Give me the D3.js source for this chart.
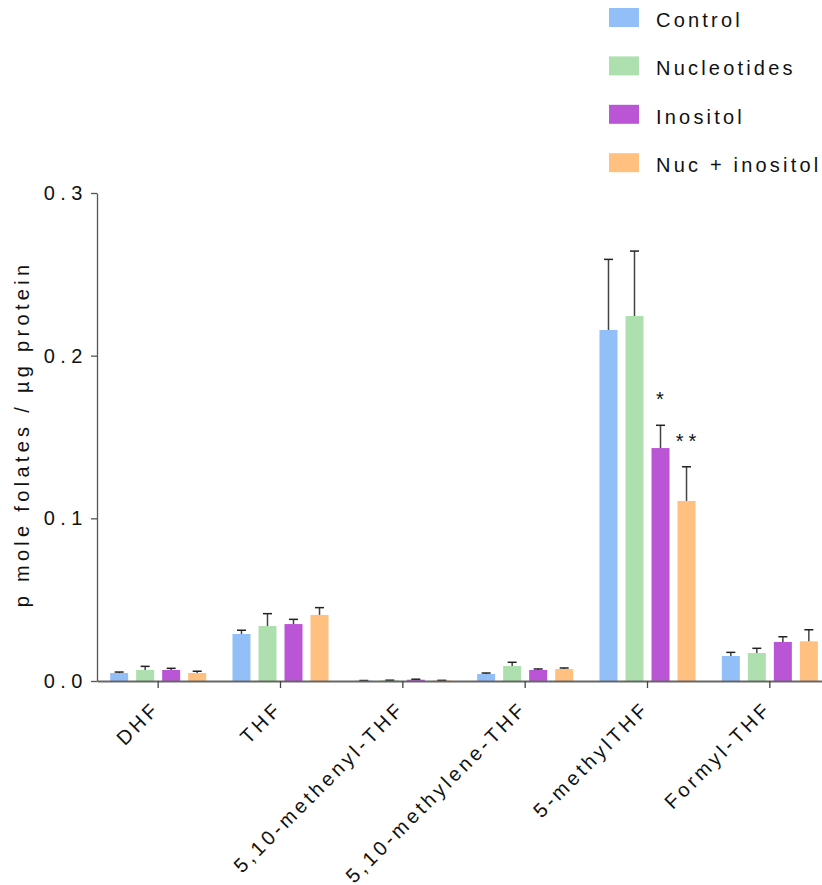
<!DOCTYPE html>
<html>
<head>
<meta charset="utf-8">
<script src="https://cdn.jsdelivr.net/npm/d3@7"></script>
<style>
  html, body { margin: 0; padding: 0; background: #fff; }
  svg { display: block; font-family: "Liberation Sans", Arial, sans-serif; }
</style>
</head>
<body>
<svg id="chart" width="822" height="885"></svg>
<script>
// Folate species measured per treatment (mean and upper SEM)
const categories = ["DHF", "THF", "5,10-methenyl-THF", "5,10-methylene-THF", "5-methylTHF", "Formyl-THF"];
const seriesNames = ["Control", "Nucleotides", "Inositol", "Nuc + inositol"];

const control        = [0.0049, 0.0289, 0.0002, 0.0043, 0.2158, 0.0154];
const controlErr     = [0.0006, 0.0023, 0.0001, 0.0006, 0.0434, 0.0022];
const nucleotides    = [0.0068, 0.0338, 0.0004, 0.0092, 0.2244, 0.0172];
const nucleotidesErr = [0.0022, 0.0076, 0.0001, 0.0023, 0.0399, 0.0029];
const inositol       = [0.0068, 0.0350, 0.0008, 0.0068, 0.1432, 0.0240];
const inositolErr    = [0.0010, 0.0029, 0.0003, 0.0006, 0.0140, 0.0032];
const nucInositol    = [0.0049, 0.0406, 0.0003, 0.0074, 0.1107, 0.0244];
const nucInositolErr = [0.0011, 0.0045, 0.0001, 0.0006, 0.0210, 0.0071];

const yTicks = [0, 0.1, 0.2, 0.3];

// Significance marks versus control
const significance = [
  { category: "5-methylTHF", series: "Inositol", label: "*" },
  { category: "5-methylTHF", series: "Nuc + inositol", label: "**" }
];

const seriesColors = ["#93BFF8", "#AEDFAE", "#BA55D6", "#FFC080"];
const seriesValues = [control, nucleotides, inositol, nucInositol];
const seriesErrors = [controlErr, nucleotidesErr, inositolErr, nucInositolErr];

const rows = [];
categories.forEach((c, i) => {
  seriesNames.forEach((s, j) => {
    rows.push({ category: c, series: s, value: seriesValues[j][i], err: seriesErrors[j][i], color: seriesColors[j] });
  });
});

const svg = d3.select("#chart");
const plotLeft = 97, plotBottom = 681, plotTop = 193;

const y = d3.scaleLinear().domain([0, 0.3]).range([plotBottom, plotTop]);
const x0 = d3.scaleBand().domain(categories).range([plotLeft, 831]).paddingInner(0.215).paddingOuter(0.1075);
const x1 = d3.scaleBand().domain(seriesNames).range([0, x0.bandwidth()]).paddingInner(8 / 26);
const color = d3.scaleOrdinal().domain(seriesNames).range(seriesColors);

// Bars
svg.append("g").selectAll("rect")
  .data(rows)
  .join("rect")
  .attr("x", d => x0(d.category) + x1(d.series))
  .attr("y", d => y(d.value))
  .attr("width", x1.bandwidth())
  .attr("height", d => y(0) - y(d.value))
  .attr("fill", d => color(d.series));

// Upper error whiskers
const capHalf = 4.5;
const eg = svg.append("g").attr("stroke", "#222").attr("stroke-width", 1.5).attr("fill", "none");
rows.forEach(d => {
  const cx = x0(d.category) + x1(d.series) + x1.bandwidth() / 2;
  eg.append("line").attr("x1", cx).attr("x2", cx).attr("y1", y(d.value)).attr("y2", y(d.value + d.err)).attr("stroke-opacity", 0.85);
  eg.append("line").attr("x1", cx - capHalf).attr("x2", cx + capHalf).attr("y1", y(d.value + d.err)).attr("y2", y(d.value + d.err));
});

// Significance stars
svg.append("g").selectAll("text")
  .data(significance)
  .join("text")
  .attr("x", d => x0(d.category) + x1(d.series) + x1.bandwidth() / 2 + 2)
  .attr("y", d => {
    const r = rows.find(r => r.category === d.category && r.series === d.series);
    return y(r.value + r.err) - 19;
  })
  .attr("text-anchor", "middle")
  .attr("font-size", 20)
  .attr("letter-spacing", 5)
  .attr("fill", "#111")
  .text(d => d.label);

// X axis
const xAxis = svg.append("g")
  .attr("transform", `translate(0,${plotBottom})`)
  .call(d3.axisBottom(x0).tickSizeInner(7).tickSizeOuter(0));
xAxis.select(".domain").attr("stroke", "#666").attr("stroke-width", 2);
xAxis.selectAll(".tick line").attr("stroke", "#444").attr("stroke-width", 1.3);
xAxis.selectAll(".tick text")
  .attr("font-size", 20)
  .attr("letter-spacing", 3.5)
  .attr("fill", "#111")
  .attr("text-anchor", "end")
  .attr("dy", 0)
  .attr("y", 0)
  .attr("transform", "translate(3,29) rotate(-45)");

// Y axis
const yAxis = svg.append("g")
  .attr("transform", `translate(${plotLeft},0)`)
  .call(d3.axisLeft(y).tickValues(yTicks).tickFormat(d3.format(".1f")).tickSizeInner(6).tickSizeOuter(0).tickPadding(3));
yAxis.select(".domain").attr("stroke", "#555").attr("stroke-width", 1.3);
yAxis.selectAll(".tick line").attr("stroke", "#555").attr("stroke-width", 1.3);
yAxis.selectAll(".tick text")
  .attr("font-size", 20)
  .attr("letter-spacing", 5.5)
  .attr("fill", "#111");

// Y axis title
svg.append("text")
  .attr("transform", `translate(29,${(plotTop + plotBottom) / 2 - 3}) rotate(-90)`)
  .attr("text-anchor", "middle")
  .attr("font-size", 20)
  .attr("letter-spacing", 4.3)
  .attr("fill", "#111")
  .text("p mole folates / µg protein");

// Legend
const legend = svg.append("g").attr("transform", "translate(609,8)");
const li = legend.selectAll("g").data(seriesNames).join("g")
  .attr("transform", (d, i) => `translate(0,${i * 48.4})`);
li.append("rect").attr("width", 30).attr("height", 19).attr("fill", d => color(d));
li.append("text")
  .attr("x", 47).attr("y", 19)
  .attr("font-size", 20)
  .attr("letter-spacing", 3.2)
  .attr("fill", "#111")
  .text(d => d);
</script>
</body>
</html>
